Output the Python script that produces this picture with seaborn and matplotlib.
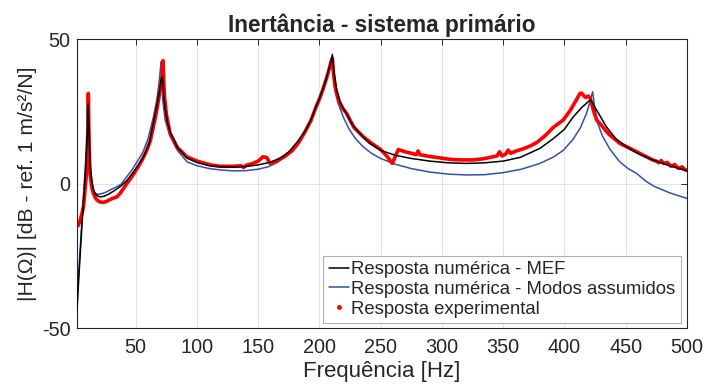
import matplotlib
matplotlib.use("Agg")
import matplotlib.pyplot as plt
import seaborn as sns
from matplotlib.lines import Line2D

# ---------------- data ----------------
f_mef = [2, 4, 6, 8, 9, 10, 10.8, 11.3, 11.8, 12.7, 14, 15.5, 17, 19, 21, 24, 28, 33, 38, 43,
         48, 53, 57, 61, 64.4, 67, 69, 70.8, 71.8, 72.8, 74, 76, 78, 84, 92, 100, 110, 120, 130, 140,
         150, 160, 168, 175, 182, 188, 193, 197, 200, 203, 206, 208, 209.5, 210.5, 212, 214, 217, 221, 226, 232,
         240, 250, 262, 275, 290, 305, 320, 335, 350, 364, 380, 391, 400, 407, 414, 418, 421.4, 424, 428, 434,
         442, 452, 462, 472, 485, 500]
h_mef = [-44, -29, -15, -2, 5, 13, 21, 27.7, 18, 7, 1.2, -2, -3.5, -4.3, -4.6, -4.4, -3.6, -2.3, -0.8, 1.2,
         4.0, 7.0, 9.8, 14, 21, 26.5, 31, 36, 37, 31, 26, 21, 18, 12.5, 8.8, 7.3, 6.2, 5.8, 5.7, 5.9,
         6.5, 7.4, 8.8, 11, 14.5, 18, 22, 26.5, 29.5, 33, 37, 40, 42.5, 44.7, 38, 32.5, 28, 25, 21, 17.8,
         14.2, 11.5, 9.8, 8.7, 7.8, 7.2, 7.0, 7.2, 7.8, 9.1, 12.2, 15.6, 18.8, 23.0, 26.3, 27.8, 29.1, 27, 24.2, 19.8,
         15.5, 12.3, 10.0, 8.2, 6.3, 4.4]

f_modos = [2, 4, 6, 8, 9, 9.8, 10.5, 11, 12, 13.5, 15, 17, 19, 22, 26, 30, 34.5, 38, 42.7, 47,
           51, 56, 60, 64.4, 67, 68.8, 70, 70.6, 71.2, 72, 74, 78, 84, 92, 100, 110, 120, 130, 140, 150,
           158, 165, 175, 182, 188, 193, 197, 200, 203, 206, 208, 209.8, 211.5, 213, 215, 217, 220, 224, 229, 235,
           242, 250, 262, 275, 290, 305, 320, 335, 350, 365, 380, 391, 399, 407, 413, 418, 421, 423, 424.5, 427,
           431, 437, 445, 452, 459, 466, 473, 486, 500]
h_modos = [-41, -27, -13, 0, 7, 15, 25.7, 17, 6, 0, -2.3, -3.4, -3.7, -3.5, -2.9, -2.0, -1.1, -0.2, 2.4, 4.8,
           7.5, 11, 15.5, 23, 28.5, 34, 39, 42.1, 36, 29, 22, 16.5, 11.5, 7.5, 6.2, 5.2, 4.7, 4.4, 4.5, 5.0,
           5.8, 7.2, 10.2, 13.8, 17.5, 21.5, 26, 29, 32.5, 36.5, 39.5, 42.3, 36, 31.5, 28, 25.8, 22.5, 19, 15.8, 13.0,
           10.6, 8.7, 6.7, 5.2, 4.0, 3.3, 3.0, 3.1, 3.8, 5.0, 7.0, 9.2, 11.5, 15.3, 19.3, 24.3, 28.5, 31.8, 27, 21,
           16.5, 12, 7.6, 5.2, 3.5, 1.0, -0.9, -3.2, -5.1]

f_exp = [2, 3, 4, 5, 6, 7.3, 8.6, 10.0, 10.7, 11.0,
         11.3, 11.6, 12.0, 12.5, 13, 14, 15, 16.5, 18, 20,
         23, 26, 30, 34.5, 37.2, 42.7, 47, 50.8, 55, 59,
         62, 64.4, 67, 69, 70.5, 71.5, 72.3, 72.8, 73.5, 75,
         78, 84, 91.7, 100, 110.7, 118.9, 125, 130, 136, 138,
         140, 145, 150, 154, 157, 159.7, 165, 172, 178, 183,
         188, 193, 197, 200, 203, 206, 208, 209.5, 210.5, 211.5,
         213, 216, 219, 222.2, 228, 235.8, 243, 250, 255, 259.5,
         262, 264.4, 270, 276, 279, 280.5, 282, 290, 300, 306.6,
         314.7, 325, 334, 342, 345, 347, 349, 352, 354, 356,
         360, 366, 372, 377.3, 384, 391, 399, 405, 409, 412.7,
         414, 416, 417.5, 419.5, 421, 423.6, 426.3, 429, 436, 445.3,
         453.5, 459, 467, 472.5, 475, 477, 479, 481, 484, 487,
         490, 493, 496, 498, 500]
h_exp = [-13.5, -14.5, -13.5, -12, -10.5, -8.0, -2.2, 4.7, 12, 18,
         31.2, 22, 13, 5, 2.5, -1, -2.8, -4.5, -5.5, -6.2,
         -6.5, -6.2, -5.3, -4.6, -3.4, 0, 2.5, 5.0, 8, 11.5,
         15, 19.7, 25, 30, 34, 37, 42.5, 36, 30, 24,
         17.4, 12.5, 9.3, 7.8, 6.5, 6.0, 6.0, 6.0, 6.2, 5.6,
         6.3, 6.9, 7.8, 9.3, 9.0, 7.0, 7.8, 9.5, 11.5, 14.2,
         17.8, 21.8, 26.3, 29.3, 32.8, 36.8, 39.8, 42.3, 43.3, 38,
         33, 28.5, 26, 24.3, 19.5, 16.2, 13.8, 11.8, 9.5, 7.0,
         9.5, 11.8, 11.0, 10.4, 10.0, 11.3, 10.0, 9.4, 8.8, 8.4,
         8.2, 8.2, 8.6, 9.3, 9.6, 11.0, 9.6, 10.2, 11.6, 10.5,
         11.2, 12.0, 13.0, 14.2, 16.5, 19.5, 22, 25.5, 28.5, 31.2,
         31.3, 30.3, 29.8, 30.3, 29.5, 25.4, 22.0, 20.8, 17.2, 13.9,
         12.2, 11.0, 9.3, 8.1, 7.8, 7.2, 8.0, 7.0, 7.3, 6.0,
         6.6, 5.3, 5.8, 4.9, 4.6]

x_ticks = [50, 100, 150, 200, 250, 300, 350, 400, 450, 500]
y_ticks = [-50, 0, 50]
series_labels = ["Resposta numérica - MEF",
                 "Resposta numérica - Modos assumidos",
                 "Resposta experimental"]
title_text = "Inertância - sistema primário"
xlabel_text = "Frequência [Hz]"
ylabel_text = "|H(Ω)| [dB - ref. 1 m/s²/N]"

# ---------------- style ----------------
sns.set_theme(style="white")
plt.rcParams["font.family"] = ["Liberation Sans", "DejaVu Sans"]
plt.rcParams["axes.unicode_minus"] = False

c_black = "#000000"
c_blue = "#3050b0"
c_red = "#ff0000"
axis_col = "#262626"

fig = plt.figure(figsize=(7.06, 3.87), dpi=100)
ax = fig.add_axes([0.109, 0.152, 0.864, 0.747])

sns.lineplot(x=f_mef, y=h_mef, ax=ax, color=c_black, linewidth=1.1,
             estimator=None, sort=False, legend=False, zorder=3)
sns.lineplot(x=f_modos, y=h_modos, ax=ax, color=c_blue, linewidth=1.1,
             estimator=None, sort=False, legend=False, zorder=2)
sns.lineplot(x=f_exp, y=h_exp, ax=ax, color=c_red, linewidth=2.6,
             estimator=None, sort=False, legend=False, zorder=2.5)

ax.set_xlim(2, 500)
ax.set_ylim(-50, 50)
ax.set_xticks(x_ticks)
ax.set_yticks(y_ticks)
ax.grid(True, color="#e3e3e3", linewidth=0.7)
ax.set_axisbelow(True)

for s in ax.spines.values():
    s.set_color(axis_col)
    s.set_linewidth(0.8)
ax.tick_params(axis="both", which="both", direction="in", top=True, right=True,
               length=4, width=0.7, color=axis_col, labelsize=14.3, labelcolor=axis_col)
ax.tick_params(axis="x", pad=7)
ax.tick_params(axis="y", pad=4.5)

ax.set_title(title_text, fontsize=16.3, fontweight="bold", pad=5)
ax.set_xlabel(xlabel_text, fontsize=16, color=axis_col, labelpad=3)
ax.set_ylabel(ylabel_text, fontsize=15.2, color=axis_col, labelpad=4)

handles = [Line2D([], [], color=c_black, linewidth=1.1),
           Line2D([], [], color=c_blue, linewidth=1.1),
           Line2D([], [], color=c_red, linestyle="none", marker=".", markersize=5)]
leg = ax.legend(handles, series_labels, loc="lower right", bbox_to_anchor=(0.99, 0.017),
                borderaxespad=0, fontsize=13.3, frameon=True, fancybox=False,
                framealpha=1, edgecolor="#b0b0b0", handlelength=1.1, handletextpad=0.1,
                labelspacing=0.15, borderpad=0.3)
leg.get_frame().set_linewidth(0.8)

fig.savefig("out.png", dpi=100)
